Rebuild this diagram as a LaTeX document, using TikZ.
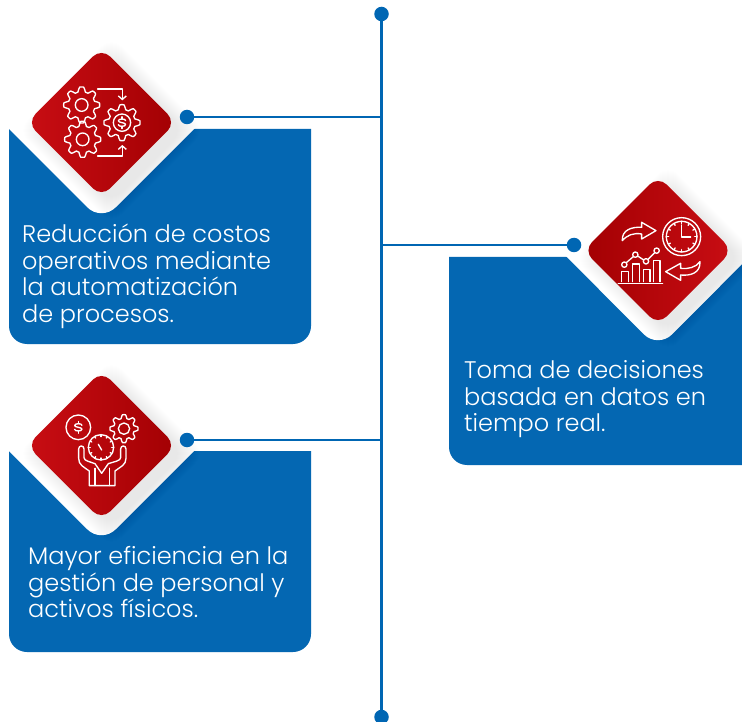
\documentclass[tikz,border=0pt]{standalone}
\usepackage{fontspec}
\setmainfont{Poppins Light}
\definecolor{cardblue}{HTML}{0467B2}
\definecolor{lineblue}{HTML}{0066B3}
\definecolor{redlight}{HTML}{C80D13}
\definecolor{reddark}{HTML}{A30003}
\usetikzlibrary{arrows.meta}
\tikzset{
  cardfill/.style={fill=cardblue},
  icon/.style={draw=white,line width=1.35pt,line join=round,line cap=round},
  iconarrow/.style={icon,-{Straight Barb[length=3.5pt,width=8pt]}},
  connector/.style={draw=lineblue,line width=2.6pt},
  dot/.style={circle,fill=lineblue,minimum size=14.5pt,inner sep=0pt},
  cardtext/.style={anchor=north west,align=left,text=white,inner sep=0pt,font=\fontsize{24}{26.8}\selectfont},
}
\newcommand{\gearicon}[5]{% cx cy R inner teeth
  \draw[icon] plot[domain=0:360,samples=181,smooth] ({#1+#3*(.87+.13*max(-1,min(1,1.5*cos(#5*\x))))*cos(\x)},{#2+#3*(.87+.13*max(-1,min(1,1.5*cos(#5*\x))))*sin(\x)}) -- cycle;
  \draw[icon] (#1,#2) circle (#4);
}
\newcommand{\dollaricon}[3]{% cx cy s
  \begin{scope}[shift={(#1,#2)}]
  \draw[icon] (#3,-.55*#3) .. controls (#3,-1.15*#3) and (-#3,-1.15*#3) .. (-#3,-.5*#3) .. controls (-#3,.05*#3) and (#3,-.05*#3) .. (#3,.5*#3) .. controls (#3,1.15*#3) and (-#3,1.15*#3) .. (-#3,.55*#3);
  \draw[icon] (0,-1.6*#3) -- (0,-1*#3) (0,1*#3) -- (0,1.6*#3);
  \end{scope}
}
% shadow, diamond
\newcommand{\reddiamond}[5]{% cx cy leftcolor rightcolor shadow-dx
  \foreach \s in {0,1,...,22}{
    \fill[black,opacity=.005,rounded corners=14pt] (#1+#5-72-\s,#2+8) -- (#1+#5,#2+8-72-\s) -- (#1+#5+72+\s,#2+8) -- (#1+#5,#2+8+72+\s) -- cycle;
  }
  \shade[left color=#3,right color=#4,rounded corners=12pt] (#1-74.5,#2) -- (#1,#2-74.5) -- (#1+74.5,#2) -- (#1,#2+74.5) -- cycle;
}
\begin{document}
\begin{tikzpicture}[x=1pt,y=-1pt]
\useasboundingbox (0,0) rectangle (742,722);
\clip (0,0) rectangle (742,722);
\fill[white] (0,0) rectangle (742,722);

% card 1
\fill[cardfill] (9,129) -- (311,129) [rounded corners=18pt] -- (311,344) -- (9,344) [sharp corners] -- cycle;
\fill[white,rounded corners=20pt] (-20,100) -- (101.5,221.5) -- (223,100) -- cycle;
\reddiamond{101.5}{122.5}{redlight}{reddark}{10}
% card 3
\fill[cardfill] (9,451) -- (311,451) [rounded corners=18pt] -- (311,652) -- (9,652) [sharp corners] -- cycle;
\fill[white,rounded corners=20pt] (-20,422) -- (101.5,543.5) -- (223,422) -- cycle;
\reddiamond{101.5}{445.5}{redlight}{reddark}{10}
% card 2
\fill[cardfill] (760,257) -- (449,257) [rounded corners=18pt] -- (449,465) -- (760,465) [sharp corners] -- cycle;
\fill[white,rounded corners=20pt] (537,227) -- (658,348.5) -- (779,227) -- cycle;
\reddiamond{658}{250.5}{reddark}{redlight}{10}

% timeline
\node[dot] (top) at (381.5,14) {};
\node[dot] (bottom) at (381.5,717) {};
\node[dot] (dotA) at (187,117) {};
\node[dot] (dotB) at (574,245) {};
\node[dot] (dotC) at (187,440) {};
\coordinate (jA) at (381.5,117);
\coordinate (jB) at (381.5,245);
\coordinate (jC) at (381.5,440);
\draw[connector] (top) -- (bottom);
\draw[connector] (dotA) -- (jA);
\draw[connector] (dotB) -- (jB);
\draw[connector] (dotC) -- (jC);

% texts
\node[cardtext] (textA) at (22,223.5) {Reducción de costos\\operativos mediante\\la automatización\\de procesos.};
\node[cardtext] (textB) at (464,360) {Toma de decisiones\\basada en datos en\\tiempo real.};
\node[cardtext] (textC) at (28,546) {Mayor eficiencia en la\\gestión de personal y\\activos físicos.};

% icon 1
\begin{scope}[shift={(0,40)},x=.3333pt,y=-.3333pt]
\gearicon{245}{195}{54}{19}{8}
\gearicon{248}{298}{54}{19}{8}
\gearicon{366}{248}{54}{26}{8}
\dollaricon{366}{248}{11}
\draw[iconarrow] (293,147) -- (367,147) -- (367,181);
\draw[iconarrow] (293,348) -- (367,348) -- (367,315);
\end{scope}

% icon 2
\begin{scope}[shift={(440,170)},x=.3333pt,y=-.3333pt]
\draw[icon] (547,212) .. controls (545,180) and (575,170) .. (605,172) -- (605,157) -- (648,182) -- (605,207) -- (605,192) .. controls (580,188) and (562,195) .. cycle;
\draw[icon] (725,200) circle (57) (725,200) circle (46);
\foreach \a in {0,30,...,330}{\draw[icon] (725,200)++(\a:46) -- ++(\a+180:7);}
\draw[icon] (725,165) -- (725,201) -- (752,201);
\draw[icon] (535,340) -- (668,340);
\draw[icon] (545,335) -- (545,305) -- (565,305) -- (565,335);
\draw[icon] (577,335) -- (577,282) -- (598,282) -- (598,335);
\draw[icon] (610,335) -- (610,298) -- (630,298) -- (630,335);
\draw[icon] (640,335) -- (640,272) -- (660,272) -- (660,335);
\draw[icon] (553,284) circle (8) (586,254) circle (8) (618,274) circle (8) (650,242) circle (8);
\draw[icon] (559,278) -- (580,260) (593,258) -- (611,270) (624,268) -- (644,248);
\draw[icon] (677,305) -- (722,280) -- (722,295) .. controls (745,298) and (768,292) .. (780,275) .. controls (782,310) and (750,318) .. (722,315) -- (722,331) -- cycle;
\end{scope}

% icon 3
\begin{scope}[shift={(0,365)},x=.3333pt,y=-.3333pt]
\draw[icon] (235,187) circle (37);
\dollaricon{235}{187}{11}
\gearicon{372}{191}{42}{17}{8}
\draw[icon] (303,247) circle (38);
\foreach \a in {0,30,...,330}{\draw[icon] (303,247)++(\a:38) -- ++(\a+180:6);}
\draw[icon] (295,238) -- (305,255);
\draw[icon] (268,362) -- (268,318) .. controls (250,305) and (236,300) .. (236,280) -- (236,252) .. controls (236,240) and (252,240) .. (252,252) -- (252,278) .. controls (252,288) and (270,290) .. (285,296) -- (305,325) -- (325,296) .. controls (342,290) and (362,288) .. (362,278) -- (362,252) .. controls (362,240) and (378,240) .. (378,252) -- (378,280) .. controls (378,300) and (362,305) .. (345,318) -- (345,362) -- cycle;
\draw[icon] (285,362) -- (285,310) (328,362) -- (328,310);
\end{scope}
\end{tikzpicture}
\end{document}
